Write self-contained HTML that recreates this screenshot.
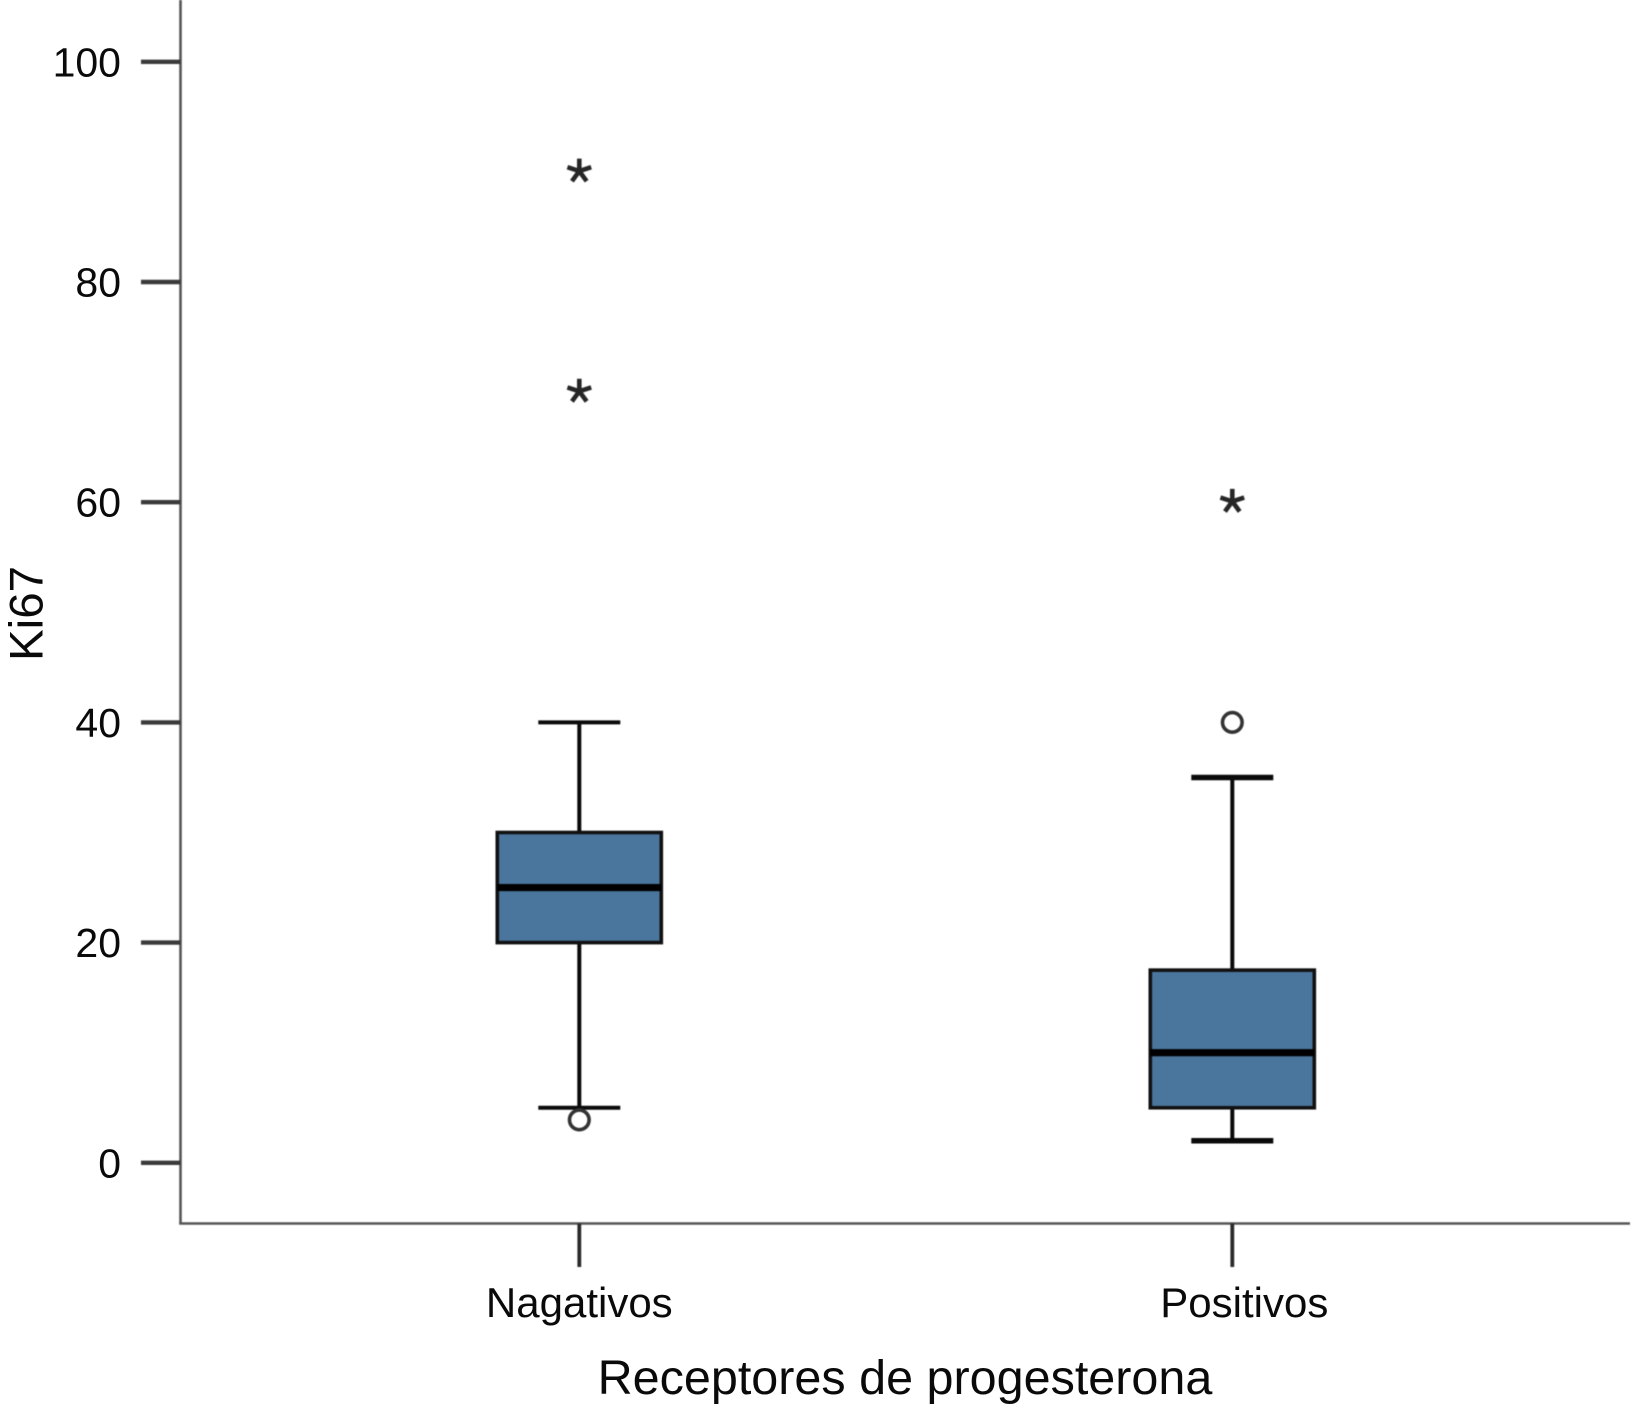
<!DOCTYPE html>
<html lang="es">
<head>
<meta charset="utf-8">
<title>Ki67 por receptores de progesterona</title>
<style>
  html, body { margin: 0; padding: 0; background: #ffffff; }
  svg { display: block; }
  text { font-family: "Liberation Sans", sans-serif; fill: #0a0a0a; }
  #plot { filter: blur(0.55px); }
</style>
</head>
<body>
<svg id="chart" xmlns="http://www.w3.org/2000/svg" width="1633" height="1418" viewBox="0 0 1633 1418">
  <rect x="0" y="0" width="1633" height="1418" fill="#ffffff"></rect>
  <g id="plot"></g>
  <text transform="translate(42.5,613.5) rotate(-90)" text-anchor="middle" font-size="47.5">Ki67</text>
  <text x="905" y="1394" text-anchor="middle" font-size="48.5">Receptores de progesterona</text>
</svg>
<script>
const categories = ['Nagativos', 'Positivos'];
const q1Values = [20, 5];
const medianValues = [25, 10];
const q3Values = [30, 17.5];
const whiskerLowValues = [5, 2];
const whiskerHighValues = [40, 35];
const circleOutliers = [[3.9], [40]];
const starOutliers = [[90, 70], [60]];
const yTickLabels = [0, 20, 40, 60, 80, 100];

const SVG_NS = 'http://www.w3.org/2000/svg';
const plot = document.getElementById('plot');
const chart = document.getElementById('chart');

function yScale(value) {
  return 1162.8 - value * 11.01;
}
function xScale(index) {
  return 579.3 + index * 653;
}
function make(tag, parent, attrs) {
  const el = document.createElementNS(SVG_NS, tag);
  Object.keys(attrs).forEach(function (key) { el.setAttribute(key, attrs[key]); });
  parent.appendChild(el);
  return el;
}
function starPath(cx, cy, arm) {
  let d = '';
  for (let k = 0; k < 5; k++) {
    const a = -Math.PI / 2 + k * 2 * Math.PI / 5;
    d += 'M' + cx.toFixed(2) + ' ' + cy.toFixed(2) + 'L' + (cx + arm * Math.cos(a)).toFixed(2) + ' ' + (cy + arm * Math.sin(a)).toFixed(2);
  }
  return d;
}

const axisLeft = 180.5;
const axisBottom = 1223.5;
const axisRight = 1630;

const yAxis = make('line', plot, { x1: axisLeft, y1: 0, x2: axisLeft, y2: axisBottom, stroke: '#555555', 'stroke-width': 2.6 });



const xAxis = make('line', plot, { x1: axisLeft - 1.3, y1: axisBottom, x2: axisRight, y2: axisBottom, stroke: '#555555', 'stroke-width': 2.6 });



yTickLabels.forEach(function (label) {
  const y = yScale(label);
  const tick = make('line', plot, { x1: 141, y1: y, x2: axisLeft, y2: y, stroke: '#3a3a3a', 'stroke-width': 4.4 });
  
  
  const text = make('text', chart, { x: 121, y: y + 14.5, 'text-anchor': 'end', 'font-size': 41 });
  text.textContent = String(label);
  
  
});

categories.forEach(function (category, i) {
  const cx = xScale(i);
  const slug = category.toLowerCase();
  const boxHalf = 82;
  const capHalf = 41;
  const capWidth = i === 1 ? 5.5 : 4;

  const tick = make('line', plot, { x1: cx, y1: axisBottom, x2: cx, y2: 1267, stroke: '#2a2a2a', 'stroke-width': 3.8 });
  
  

  const label = make('text', chart, { x: cx + (i === 1 ? 12 : 0), y: 1317, 'text-anchor': 'middle', 'font-size': 42 });
  label.textContent = category;
  
  

  const whisker = make('line', plot, { x1: cx, y1: yScale(whiskerHighValues[i]), x2: cx, y2: yScale(whiskerLowValues[i]), stroke: '#0a0a0a', 'stroke-width': 4 });
  
  

  const capHigh = make('line', plot, { x1: cx - capHalf, y1: yScale(whiskerHighValues[i]), x2: cx + capHalf, y2: yScale(whiskerHighValues[i]), stroke: '#0a0a0a', 'stroke-width': capWidth });
  
  

  const capLow = make('line', plot, { x1: cx - capHalf, y1: yScale(whiskerLowValues[i]), x2: cx + capHalf, y2: yScale(whiskerLowValues[i]), stroke: '#0a0a0a', 'stroke-width': capWidth });
  
  

  const box = make('rect', plot, { x: cx - boxHalf, y: yScale(q3Values[i]), width: boxHalf * 2, height: yScale(q1Values[i]) - yScale(q3Values[i]), fill: '#4a759c', stroke: '#111111', 'stroke-width': 3.6 });
  
  

  const median = make('line', plot, { x1: cx - boxHalf, y1: yScale(medianValues[i]), x2: cx + boxHalf, y2: yScale(medianValues[i]), stroke: '#000000', 'stroke-width': 7.2 });
  
  

  circleOutliers[i].forEach(function (value) {
    const circle = make('circle', plot, { cx: cx, cy: yScale(value), r: 9.8, fill: '#ffffff', stroke: '#333333', 'stroke-width': 3.6 });
    
    
  });

  starOutliers[i].forEach(function (value) {
    const star = make('path', plot, { d: starPath(cx, yScale(value) - 0.8, 12.5), fill: 'none', stroke: '#262626', 'stroke-width': 4.6 });
    
    
  });
});
</script>
</body>
</html>
